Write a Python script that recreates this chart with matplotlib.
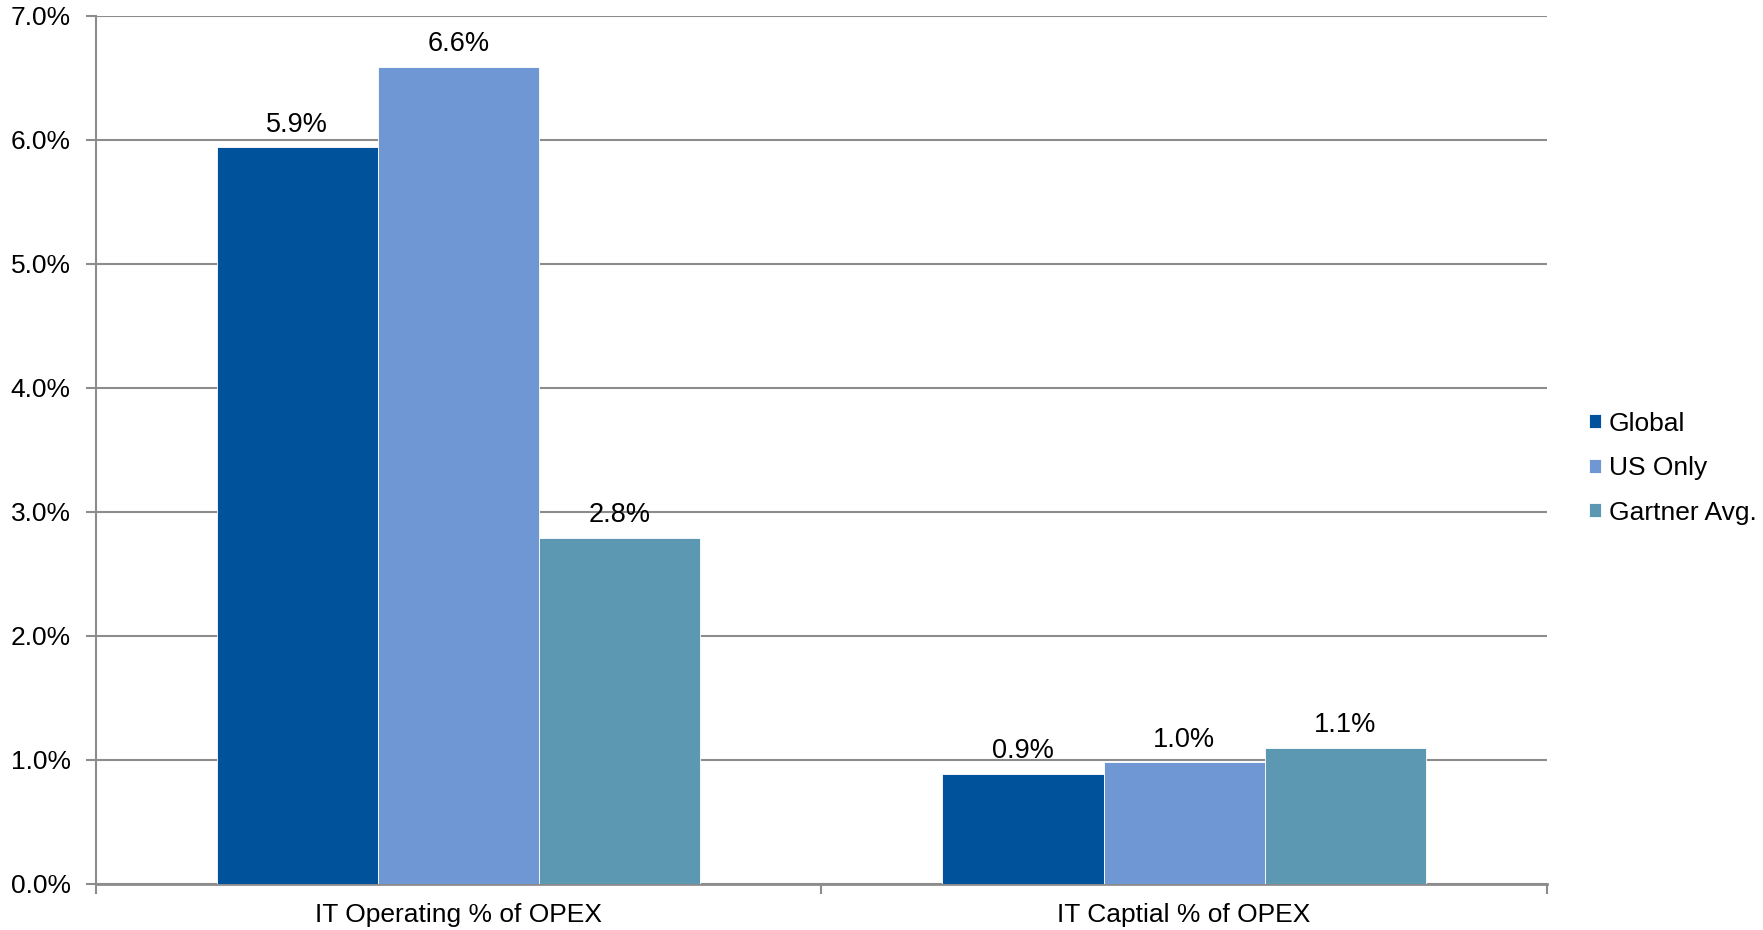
"""
IT spend as a share of OPEX: Global vs US only vs Gartner average.
"""

import matplotlib
matplotlib.use("Agg")
import matplotlib.pyplot as plt
import numpy as np

# ======================  Data  ======================
categories = ["IT Operating % of OPEX", "IT Captial % of OPEX"]
series_names = ["Global", "US Only", "Gartner Avg."]
global_vals = [5.94, 0.89]
us_vals = [6.59, 0.98]
gartner_vals = [2.79, 1.10]
colors = ["#00529B", "#6F97D4", "#5D98B3"]

plt.rcParams["font.family"] = ["Liberation Sans", "DejaVu Sans"]
plt.rcParams["font.size"] = 19

fig = plt.figure(figsize=(17.63, 9.30), dpi=100)
ax = fig.add_axes([0.0542, 0.0495, 0.8233, 0.9333])

x = np.arange(len(categories))
width = 0.222
grey = "#8C8C8C"

# --- bars, one series at a time
for i, (name, vals) in enumerate(zip(series_names, [global_vals, us_vals, gartner_vals])):
    bars = ax.bar(x + (i - 1) * width, vals, width, color=colors[i], label=name,
                  edgecolor="white", linewidth=0.6, zorder=3)
    ax.bar_label(bars, labels=[f"{v:.1f}%" for v in vals], padding=7, fontsize=19.5)

# --- axes styling
ax.set_xlim(-0.5, 1.5)
ax.set_ylim(0, 7)
ax.set_yticks(np.arange(0, 8, 1))
ax.set_yticklabels([f"{v:.1f}%" for v in range(8)])
ax.yaxis.grid(True, color=grey, linewidth=1.5, zorder=0)

ax.set_xticks([-0.5, 0.5, 1.5])
ax.set_xticklabels([])
ax.set_xticks(x, minor=True)
ax.set_xticklabels(categories, minor=True)
ax.tick_params(axis="x", which="major", length=7, width=1.5, color=grey, direction="out")
ax.tick_params(axis="x", which="minor", length=0, pad=14)
ax.tick_params(axis="y", length=7, width=1.5, color=grey, pad=11)

for side in ["top", "right"]:
    ax.spines[side].set_visible(False)
ax.spines["left"].set_color(grey)
ax.spines["left"].set_linewidth(1.5)
ax.spines["bottom"].set_color(grey)
ax.spines["bottom"].set_linewidth(2)

ax.legend(loc="center left", bbox_to_anchor=(1.029, 0.479), frameon=False,
          borderaxespad=0, borderpad=0, handlelength=0.45, handleheight=0.45,
          handletextpad=0.3, labelspacing=0.78, fontsize=19)

fig.savefig("out.png", dpi=100)
